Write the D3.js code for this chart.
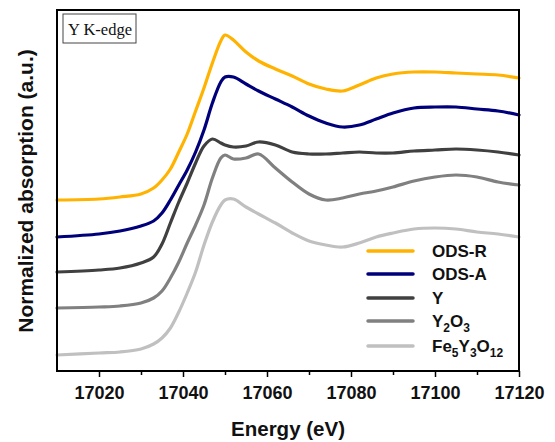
<!DOCTYPE html>
<html>
<head>
<meta charset="utf-8">
<script src="https://cdn.jsdelivr.net/npm/d3@7"></script>
<style>
  html, body { margin: 0; padding: 0; background: #fff; }
  svg { display: block; }
</style>
</head>
<body>
<svg id="chart" width="555" height="442"></svg>
<script>
// Photon energy grid (eV), shared by all spectra
const energy = [17010, 17020, 17025, 17030, 17033, 17035, 17037, 17039, 17041, 17043,
  17045, 17047, 17049, 17050, 17052, 17055, 17058, 17062, 17066, 17070,
  17074, 17078, 17082, 17086, 17090, 17095, 17100, 17105, 17110, 17115, 17120];

// Normalized absorption, vertically offset for clarity
const odsR = [1.71, 1.72, 1.74, 1.77, 1.83, 1.91, 2.02, 2.19, 2.37, 2.60,
  2.83, 3.08, 3.30, 3.36, 3.31, 3.19, 3.10, 3.02, 2.95, 2.87,
  2.82, 2.80, 2.86, 2.93, 2.97, 2.99, 2.99, 2.98, 2.97, 2.96, 2.93];
const odsA = [1.34, 1.37, 1.40, 1.45, 1.50, 1.58, 1.71, 1.86, 2.01, 2.19,
  2.41, 2.68, 2.89, 2.94, 2.94, 2.87, 2.80, 2.72, 2.64, 2.55,
  2.48, 2.44, 2.46, 2.52, 2.58, 2.63, 2.64, 2.64, 2.62, 2.60, 2.56];
const yMetal = [0.99, 1.01, 1.03, 1.08, 1.14, 1.27, 1.48, 1.69, 1.88, 2.08,
  2.25, 2.32, 2.28, 2.26, 2.24, 2.25, 2.29, 2.26, 2.19, 2.17,
  2.17, 2.18, 2.19, 2.18, 2.18, 2.20, 2.21, 2.22, 2.21, 2.19, 2.16];
const y2o3 = [0.63, 0.64, 0.65, 0.68, 0.73, 0.80, 0.93, 1.09, 1.28, 1.46,
  1.66, 1.93, 2.13, 2.16, 2.12, 2.13, 2.17, 2.03, 1.89, 1.77,
  1.71, 1.73, 1.77, 1.80, 1.84, 1.90, 1.94, 1.96, 1.94, 1.89, 1.86];
const fe5y3o12 = [0.16, 0.18, 0.19, 0.22, 0.27, 0.33, 0.43, 0.59, 0.78, 0.99,
  1.26, 1.49, 1.66, 1.71, 1.72, 1.64, 1.57, 1.48, 1.38, 1.30,
  1.26, 1.24, 1.28, 1.34, 1.38, 1.42, 1.43, 1.42, 1.39, 1.37, 1.34];

const seriesNames = ["ODS-R", "ODS-A", "Y", "Y2O3", "Fe5Y3O12"];
const seriesColors = ["#FFB300", "#00007A", "#404040", "#808080", "#C0C0C0"];
const seriesValues = [odsR, odsA, yMetal, y2o3, fe5y3o12];

const majorTicks = [17020, 17040, 17060, 17080, 17100, 17120];
const minorTicks = [17030, 17050, 17070, 17090, 17110];

const svg = d3.select("#chart");
const margin = { left: 57, right: 36, top: 10, bottom: 71 };
const W = 555, H = 442;

const x = d3.scaleLinear().domain([17010, 17120]).range([margin.left, W - margin.right]);
const y = d3.scaleLinear().domain([0, 3.61]).range([H - margin.bottom, margin.top]);

// spectra
const line = d3.line()
  .x((d, i) => x(energy[i]))
  .y(d => y(d))
  .curve(d3.curveCatmullRom.alpha(0.5));

svg.append("g").selectAll("path")
  .data(seriesValues)
  .join("path")
  .attr("d", d => line(d))
  .attr("fill", "none")
  .attr("stroke", (d, i) => seriesColors[i])
  .attr("stroke-width", 3.2)
  .attr("stroke-linejoin", "round")
  .attr("stroke-linecap", "round");

// frame
svg.append("rect")
  .attr("x", margin.left).attr("y", margin.top)
  .attr("width", W - margin.left - margin.right)
  .attr("height", H - margin.top - margin.bottom)
  .attr("fill", "none").attr("stroke", "#000").attr("stroke-width", 2);

// x axis
const xAxis = svg.append("g").attr("transform", `translate(0,${H - margin.bottom})`);
xAxis.call(d3.axisBottom(x).tickValues(majorTicks).tickSize(6).tickPadding(9).tickFormat(d3.format("d")))
  .call(g => g.select(".domain").remove())
  .call(g => g.selectAll(".tick line").attr("stroke-width", 1.5))
  .call(g => g.selectAll(".tick text")
    .attr("font-family", "Liberation Sans, Arial, sans-serif")
    .attr("font-weight", "bold").attr("font-size", 18).attr("fill", "#111"));
svg.append("g").attr("transform", `translate(0,${H - margin.bottom})`)
  .call(d3.axisBottom(x).tickValues(minorTicks).tickSize(4).tickFormat(""))
  .call(g => g.select(".domain").remove())
  .call(g => g.selectAll(".tick line").attr("stroke-width", 1.5));

// axis titles
svg.append("text")
  .attr("x", x(17065)).attr("y", 436)
  .attr("text-anchor", "middle")
  .attr("font-family", "Liberation Sans, Arial, sans-serif")
  .attr("font-weight", "bold").attr("font-size", 20.5).attr("fill", "#111")
  .text("Energy (eV)");
svg.append("text")
  .attr("transform", "translate(33,191) rotate(-90)")
  .attr("text-anchor", "middle")
  .attr("font-family", "Liberation Sans, Arial, sans-serif")
  .attr("font-weight", "bold").attr("font-size", 21).attr("fill", "#111")
  .text("Normalized absorption (a.u.)");

// edge label
svg.append("rect")
  .attr("x", 63).attr("y", 14).attr("width", 73).attr("height", 29)
  .attr("fill", "#fff").attr("stroke", "#444").attr("stroke-width", 1);
svg.append("text")
  .attr("x", 68).attr("y", 35)
  .attr("font-family", "Liberation Serif, Times New Roman, serif")
  .attr("font-size", 16.5).attr("fill", "#111")
  .text("Y K-edge");

// legend
const legendY = [251, 274, 298, 321, 346];
const legend = svg.append("g");
seriesNames.forEach((name, i) => {
  legend.append("line")
    .attr("x1", 368).attr("x2", 413)
    .attr("y1", legendY[i]).attr("y2", legendY[i])
    .attr("stroke", seriesColors[i]).attr("stroke-width", 3.5)
    .attr("stroke-linecap", "round");
  const t = legend.append("text")
    .attr("x", 432).attr("y", legendY[i] + 6)
    .attr("font-family", "Liberation Sans, Arial, sans-serif")
    .attr("font-weight", "bold").attr("font-size", 17).attr("fill", "#111");
  // chemical formulas: element symbols on the baseline, counts as subscripts
  const parts = name.startsWith("ODS") ? [name] : name.match(/[A-Za-z]+|\d+/g);
  let lowered = false;
  parts.forEach(p => {
    const isCount = /^\d+$/.test(p);
    const span = t.append("tspan").text(p);
    if (isCount) {
      span.attr("font-size", 12).attr("dy", lowered ? 0 : 5);
      lowered = true;
    } else {
      if (lowered) span.attr("dy", -5);
      lowered = false;
    }
  });
});
</script>
</body>
</html>
